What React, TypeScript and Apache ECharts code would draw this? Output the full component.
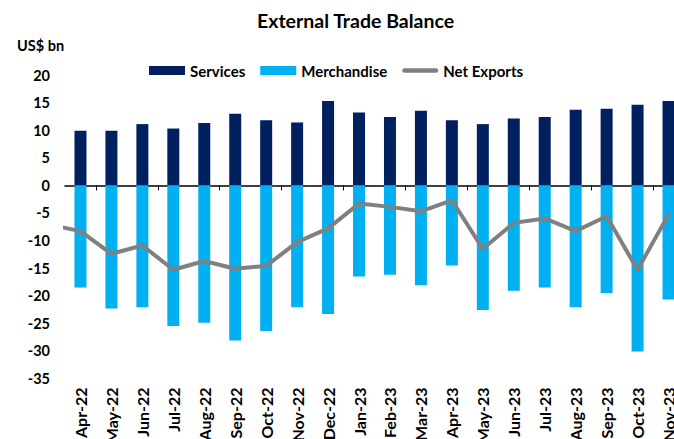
import React, { useEffect, useRef } from 'react';
import * as echarts from 'echarts';

// Mar-22 is the preceding month; only its line segment shows at the left edge
const months = [
  'Mar-22', 'Apr-22', 'May-22', 'Jun-22', 'Jul-22', 'Aug-22', 'Sep-22', 'Oct-22', 'Nov-22', 'Dec-22',
  'Jan-23', 'Feb-23', 'Mar-23', 'Apr-23', 'May-23', 'Jun-23', 'Jul-23', 'Aug-23', 'Sep-23', 'Oct-23', 'Nov-23',
];
const services = [
  null, 9.9, 9.9, 11.1, 10.3, 11.3, 13.0, 11.8, 11.4, 15.3,
  13.2, 12.4, 13.5, 11.8, 11.1, 12.1, 12.4, 13.7, 13.9, 14.6, 15.3,
];
const merchandise = [
  null, -18.5, -22.3, -22.1, -25.5, -24.9, -28.1, -26.4, -22.1, -23.3,
  -16.5, -16.2, -18.1, -14.5, -22.6, -19.1, -18.5, -22.1, -19.5, -30.1, -20.7,
];
const netExports = [
  -7.1, -8.3, -12.4, -10.9, -15.3, -13.7, -15.1, -14.6, -10.3, -7.8,
  -3.3, -3.9, -4.7, -2.7, -11.5, -6.8, -6.0, -8.3, -5.6, -15.3, -5.3,
];
const yTicks = { min: -35, max: 20, interval: 5 };

const FONT = 'Lato';

export default function App() {
  const ref = useRef<HTMLDivElement>(null);
  useEffect(() => {
    const chart = echarts.init(ref.current!, null, { renderer: 'svg' });
    chart.setOption({
      animation: false,
      backgroundColor: '#ffffff',
      title: [
        {
          text: 'External Trade Balance',
          left: 257,
          top: 10,
          padding: 0,
          textStyle: { fontFamily: FONT, fontWeight: 'bold', fontSize: 19.5, color: '#000' },
        },
        {
          text: 'US$ bn',
          left: 17,
          top: 38,
          padding: 0,
          textStyle: { fontFamily: FONT, fontWeight: 'bold', fontSize: 14.5, color: '#000' },
        },
      ],
      legend: {
        left: 149,
        top: 63,
        padding: 0,
        itemWidth: 36,
        itemHeight: 9,
        itemGap: 15,
        textStyle: { fontFamily: FONT, fontWeight: 'bold', fontSize: 15, color: '#000' },
        data: [
          { name: 'Services', icon: 'rect' },
          { name: 'Merchandise', icon: 'rect' },
          { name: 'Net Exports', icon: 'path://M2.5,0H37.5A2.5,2.5 0 0 1 37.5,5H2.5A2.5,2.5 0 0 1 2.5,0Z' },
        ],
      },
      grid: {
        left: 65,
        top: 75,
        width: 619,
        bottom: 60.5,
        containLabel: false,
        outerBoundsMode: 'none',
      },
      xAxis: [
        {
          type: 'category',
          data: months,
          min: 1,
          position: 'bottom',
          axisLine: { show: false, onZero: false },
          axisTick: { show: false },
          axisLabel: {
            interval: 0,
            rotate: 90,
            margin: 9,
            fontFamily: FONT,
            fontWeight: 'bold',
            fontSize: 16,
            color: '#000',
          },
          splitLine: { show: false },
        },
        {
          type: 'category',
          data: months,
          min: 1,
          position: 'top',
          axisLine: { show: true, onZero: true, lineStyle: { color: '#000', width: 1.5 } },
          axisTick: { show: true, inside: true, length: 5, lineStyle: { color: '#000', width: 1 } },
          axisLabel: { show: false },
          splitLine: { show: false },
        },
      ],
      yAxis: {
        type: 'value',
        min: yTicks.min,
        max: yTicks.max,
        interval: yTicks.interval,
        axisLine: { show: false },
        axisTick: { show: false },
        splitLine: { show: false },
        axisLabel: {
          margin: 15,
          fontFamily: FONT,
          fontWeight: 'bold',
          fontSize: 14.5,
          color: '#000',
        },
      },
      series: [
        {
          name: 'Services',
          type: 'bar',
          xAxisIndex: 0,
          data: services,
          barWidth: 12,
          barGap: '-100%',
          itemStyle: { color: '#002060' },
        },
        {
          name: 'Merchandise',
          type: 'bar',
          xAxisIndex: 0,
          data: merchandise,
          barWidth: 12,
          barGap: '-100%',
          itemStyle: { color: '#00B0F0' },
        },
        {
          name: 'Net Exports',
          type: 'line',
          xAxisIndex: 0,
          data: netExports,
          symbol: 'none',
          itemStyle: { color: '#808080' },
          lineStyle: { color: '#808080', width: 4, cap: 'round', join: 'round' },
          z: 5,
        },
      ],
    });
    return () => chart.dispose();
  }, []);
  return (
    <div
      ref={ref}
      style={{ position: 'fixed', left: 0, top: 0, width: 674, height: 439, background: '#fff' }}
    />
  );
}
